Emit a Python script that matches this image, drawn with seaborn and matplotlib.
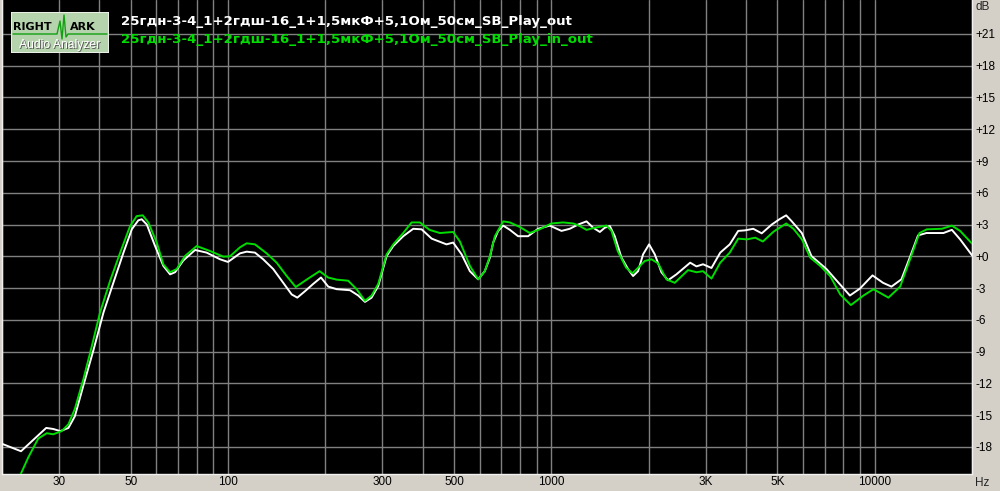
import matplotlib
matplotlib.use("Agg")
import matplotlib.pyplot as plt
from matplotlib.patches import Rectangle
from matplotlib.ticker import NullFormatter
import seaborn as sns

# series names (legend text)
name_out = "25гдн-3-4_1+2гдш-16_1+1,5мкФ+5,1Ом_50см_SB_Play_out"
name_in_out = "25гдн-3-4_1+2гдш-16_1+1,5мкФ+5,1Ом_50см_SB_Play_in_out"

# white curve: frequency (Hz) and level (dB)
freq_out = [20, 22.9, 27.4, 28.8, 30.3, 32.1, 33.6, 35.7, 38.4, 41.2, 44.2, 47.5, 50.4, 52.8,
            54.1, 56.1, 59.5, 63.1, 66.2, 68.6, 72.7, 79.1, 85.9, 94.5, 100, 108.9, 114.2,
            121.2, 128.5, 138, 148.2, 157.4, 163.8, 172.9, 183.5, 193.9, 204.2, 216.8, 238.4,
            252.8, 265.2, 278, 291.5, 309.4, 324.4, 348.3, 374, 397, 426.6, 474, 497, 527.8,
            559.8, 594, 622.6, 645.6, 661, 684.7, 709.7, 744.5, 789, 847.5, 910, 989, 1075,
            1140, 1210, 1285, 1347, 1413, 1463, 1517, 1571, 1648, 1727, 1790, 1855, 1922,
            2006, 2089, 2190, 2296, 2437, 2688, 2811, 2946, 3128, 3330, 3563, 3784, 3969,
            4212, 4474, 4805, 5076, 5324, 5543, 5954, 6373, 7096, 7530, 8382, 8999, 9847,
            10613, 11270, 12100, 12840, 13620, 14460, 16320, 17330, 18380, 20000]
db_out = [-17.7, -18.4, -16.2, -16.3, -16.5, -16.2, -15.1, -12.2, -8.8, -5.3, -2.5, 0.35, 2.55, 3.4,
          3.5, 3.0, 0.97, -0.9, -1.7, -1.5, -0.4, 0.6, 0.35, -0.28, -0.53, 0.28, 0.44,
          0.35, -0.28, -1.2, -2.5, -3.6, -3.9, -3.3, -2.6, -2.0, -2.86, -3.1, -3.2,
          -3.7, -4.3, -3.9, -2.8, 0.03, 0.97, 1.9, 2.6, 2.55, 1.67, 1.13, 1.3, 0.19,
          -1.4, -2.17, -1.4, -0.12, 1.3, 2.4, 2.9, 2.5, 1.9, 1.9, 2.6, 2.9, 2.4,
          2.6, 3.0, 3.3, 2.7, 2.3, 2.7, 2.86, 1.9, -0.12, -1.2, -1.86, -1.4, 0.19,
          1.13, 0.19, -1.5, -2.26, -1.7, -0.6, -0.95, -0.75, -1.1, 0.35, 1.13, 2.4, 2.45,
          2.6, 2.17, 3.0, 3.5, 3.87, 3.3, 2.2, 0.03, -1.2, -2.1, -3.7, -3.05, -1.8,
          -2.5, -2.86, -2.17, -0.12, 1.98, 2.2, 2.2, 2.5, 1.6, 0.1]

# green curve
freq_in_out = [20, 22.9, 24.1, 25.9, 27.5, 28.8, 30.6, 32.1, 33.6, 35.7, 37.9, 40.2, 43.2, 46.4,
               49.8, 52.2, 54.5, 56.7, 60.2, 63.1, 66.2, 69.4, 73.6, 80, 88, 96.7, 101.4, 108.9,
               114.2, 121.2, 131.7, 141.4, 151.9, 162, 177, 192, 204, 216.8, 235.3, 249.9, 265.2,
               278, 291.5, 309.4, 324.4, 348.3, 369.7, 392, 420, 452, 497, 521.5, 559.8, 594,
               622.6, 645.6, 669, 709.7, 744.5, 799, 858, 920, 1000, 1087, 1170, 1225, 1285,
               1362, 1481, 1535, 1604, 1703, 1783, 1855, 1945, 2041, 2139, 2270, 2408, 2648,
               2811, 2946, 3128, 3330, 3563, 3784, 4027, 4272, 4512, 4867, 5326, 5610, 5956,
               6318, 6784, 7285, 7824, 8443, 9235, 9915, 11030, 11990, 12870, 13760, 14500,
               16130, 17330, 18380, 20000]
db_in_out = [-24, -20.5, -19, -17.2, -16.7, -16.8, -16.5, -15.85, -14.4, -11.6, -8.5, -5.3, -2.3, 0.35,
             2.86, 3.8, 3.87, 3.2, 1.3, -0.75, -1.5, -1.2, 0.03, 0.97, 0.5, -0.03, 0.0, 0.85,
             1.23, 1.13, 0.28, -0.6, -1.86, -2.9, -2.1, -1.4, -2.0, -2.2, -2.3, -3.1, -4.2,
             -3.7, -2.6, 0.19, 1.13, 2.2, 3.2, 3.2, 2.5, 2.2, 2.3, 1.4, -0.9, -2.17,
             -1.4, 0.03, 1.9, 3.3, 3.2, 2.77, 2.2, 2.55, 3.1, 3.2, 3.1, 2.86, 2.5,
             2.7, 2.9, 2.4, 0.5, -1.07, -1.6, -1.07, -0.44, -0.28, -0.66, -2.17, -2.5, -1.3,
             -1.5, -1.4, -2.1, -0.6, 0.35, 1.67, 1.6, 1.76, 1.4, 2.33, 3.1, 2.6, 1.6,
             -0.12, -0.9, -1.86, -3.6, -4.6, -3.7, -3.1, -3.9, -2.86, -0.28, 2.2, 2.55,
             2.6, 2.9, 2.4, 1.2]

x_ticks = [30, 50, 100, 300, 500, 1000, 3000, 5000, 10000]
x_labels = ["30", "50", "100", "300", "500", "1000", "3K", "5K", "10000"]
y_ticks = list(range(-18, 22, 3))
y_labels = [("+%d" % v) if v >= 0 else str(v) for v in y_ticks]

sns.set_style("dark")
plt.rcParams["font.family"] = ["Liberation Sans", "DejaVu Sans"]

fig = plt.figure(figsize=(10, 4.91), dpi=100, facecolor="#D4D0C8")
ax = fig.add_axes([0.002, 17 / 491, 0.970, 474 / 491])
ax.set_facecolor("black")

ax.set_xscale("log")
minor = [m * 10 ** e for e in range(1, 5) for m in range(1, 10) if 20 <= m * 10 ** e <= 20000]
ax.set_xticks(minor, minor=True)
ax.xaxis.set_minor_formatter(NullFormatter())
ax.set_xticks(x_ticks)
ax.set_xticklabels(x_labels)
ax.set_yticks(y_ticks)
ax.set_yticklabels(y_labels)
ax.grid(True, which="both", color="#808080", lw=1)
ax.set_axisbelow(True)

sns.lineplot(x=freq_out, y=db_out, ax=ax, color="white", lw=1.4, sort=False, zorder=3)
sns.lineplot(x=freq_in_out, y=db_in_out, ax=ax, color="#00DD00", lw=1.4, sort=False, zorder=4)

ax.set_xlim(20, 20000)
ax.set_ylim(-20.55, 24.2)
ax.set_xlabel("")
ax.set_ylabel("")
ax.yaxis.tick_right()
ax.tick_params(axis="both", which="both", length=0, labelsize=8.5, colors="black")
ax.tick_params(axis="x", pad=1.5)
ax.tick_params(axis="y", pad=2.5)
for t in ax.get_yticklabels():
    t.set_horizontalalignment("left")
for side in ["left", "bottom", "right"]:
    ax.spines[side].set_color("#F0F0F0")
    ax.spines[side].set_linewidth(1)
ax.spines["top"].set_visible(False)

fig.text(0.976, 1 - 7 / 491, "dB", fontsize=8.5, va="center", ha="left")
fig.text(0.975, 1 - 483 / 491, "Hz", fontsize=8.5, va="center", ha="left")

# legend text
fig.text(0.121, 1 - 21 / 491, name_out, color="white", fontsize=9.6, fontweight="bold",
         va="center", ha="left", family="DejaVu Sans")
fig.text(0.121, 1 - 39 / 491, name_in_out, color="#00DD00", fontsize=9.6, fontweight="bold",
         va="center", ha="left", family="DejaVu Sans")

# logo
lg = fig.add_axes([11 / 1000, 1 - 53 / 491, 98 / 1000, 41 / 491])
lg.set_xlim(0, 98)
lg.set_ylim(41, 0)
lg.axis("off")
lg.add_patch(Rectangle((0, 0), 98, 41, facecolor="#B5D3AC", edgecolor="#F4F4F4", lw=1.2))
lg.plot([2, 46, 49, 51, 53, 55, 57, 60, 96], [22, 22, 9, 27, 3, 25, 22, 22, 22], color="#12A012", lw=1)
lg.text(2, 15, "RIGHT", fontsize=8, fontweight="bold", color="black", va="center", family="DejaVu Sans")
lg.text(59, 15, "ARK", fontsize=8, fontweight="bold", color="black", va="center", family="DejaVu Sans")
lg.text(49.6, 33.6, "Audio Analyzer", fontsize=8.7, color="#5A5A5A", va="center", ha="center")
lg.text(49, 33, "Audio Analyzer", fontsize=8.7, color="white", va="center", ha="center")

fig.savefig("out.png", dpi=100, facecolor=fig.get_facecolor())
